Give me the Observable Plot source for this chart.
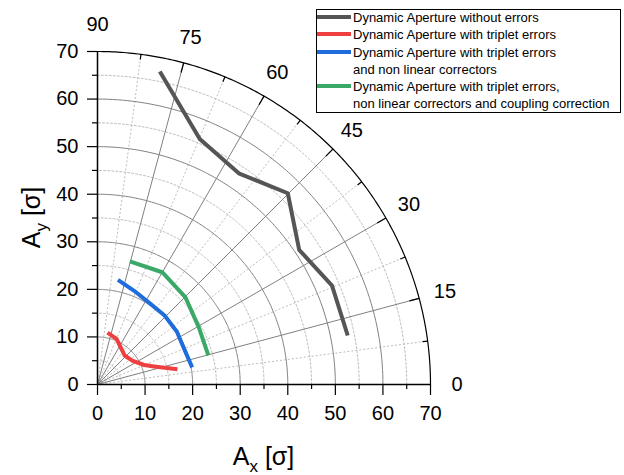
<!DOCTYPE html>
<html>
<head>
<meta charset="utf-8">
<script src="https://cdn.jsdelivr.net/npm/d3@7"></script>
<script src="https://cdn.jsdelivr.net/npm/@observablehq/plot@0.6"></script>
<style>
  html, body { margin: 0; padding: 0; background: white; }
  #chart { position: relative; width: 624px; height: 475px; }
</style>
</head>
<body>
<div id="chart"></div>
<script>
// ---------- data ----------
const seriesNames = [
  "Dynamic Aperture without errors",
  "Dynamic Aperture with triplet errors",
  "Dynamic Aperture with triplet errors|and non linear correctors",
  "Dynamic Aperture with triplet errors,|non linear correctors and coupling correction"
];
const seriesColors = ["#555555", "#ee4040", "#1f6ddc", "#3aa866"];

const noErrAx = [13.1, 21.5, 29.7, 40.0, 42.4, 49.3, 52.6];
const noErrAy = [65.8, 51.6, 44.4, 40.2, 28.3, 20.8, 10.3];

const tripAx = [2.1, 4.0, 5.7, 7.3, 9.8, 11.9, 16.8];
const tripAy = [10.9, 9.6, 6.1, 5.0, 4.1, 3.8, 3.2];

const tripNlAx = [4.3, 7.7, 11.2, 14.1, 16.7, 18.2, 19.9];
const tripNlAy = [22.0, 19.7, 16.9, 14.5, 11.1, 7.5, 3.6];

const tripNlCcAx = [6.8, 13.6, 18.5, 21.3, 23.3];
const tripNlCcAy = [25.9, 23.6, 18.3, 12.0, 6.1];

const xTicks = [0, 10, 20, 30, 40, 50, 60, 70];
const yTicks = [0, 10, 20, 30, 40, 50, 60, 70];
const minorTicks = [5, 15, 25, 35, 45, 55, 65];
const angleLabels = [0, 15, 30, 45, 60, 75, 90];
const majorRings = [10, 20, 30, 40, 50, 60];
const minorRings = [5, 15, 25, 35, 45, 55, 65];
const outerRadius = 70;
const majorSpokes = [15, 30, 45, 60, 75];
const minorSpokes = [7.5, 22.5, 37.5, 52.5, 67.5, 82.5];

// ---------- derived tables ----------
const allAx = [noErrAx, tripAx, tripNlAx, tripNlCcAx];
const allAy = [noErrAy, tripAy, tripNlAy, tripNlCcAy];
const rows = [];
seriesNames.forEach((s, i) => allAx[i].forEach((x, j) => rows.push({series: s, Ax: x, Ay: allAy[i][j]})));

const rad = d => d * Math.PI / 180;
const arcPts = rs => rs.flatMap(r => d3.range(0, 90.001, 0.5).map(a => ({r, x: r * Math.cos(rad(a)), y: r * Math.sin(rad(a))})));
const spokes = (as, r0, r1) => as.map(a => ({
  x1: r0 * Math.cos(rad(a)), y1: r0 * Math.sin(rad(a)),
  x2: r1 * Math.cos(rad(a)), y2: r1 * Math.sin(rad(a))
}));
const angleText = angleLabels.map(a => ({a, x: 75.6 * Math.cos(rad(a)), y: 75.6 * Math.sin(rad(a))}));

const W = 624, H = 475;
const mL = 97, mR = 194, mT = 51, mB = 91;
const font = "'Liberation Sans', Arial, Helvetica, sans-serif";

const plot = Plot.plot({
  width: W, height: H,
  marginLeft: mL, marginRight: mR, marginTop: mT, marginBottom: mB,
  style: {fontFamily: font, fontSize: "20px", background: "white", overflow: "visible"},
  x: {domain: [0, 70], label: null},
  y: {domain: [0, 70], label: null},
  color: {domain: seriesNames, range: seriesColors},
  marks: [
    // minor grid
    Plot.line(arcPts(minorRings), {x: "x", y: "y", z: "r", stroke: "#bdbdbd", strokeWidth: 1, strokeDasharray: "2,2"}),
    Plot.link(spokes(minorSpokes, 0, outerRadius), {x1: "x1", y1: "y1", x2: "x2", y2: "y2", stroke: "#bdbdbd", strokeWidth: 1, strokeDasharray: "2,2"}),
    // major grid
    Plot.line(arcPts(majorRings), {x: "x", y: "y", z: "r", stroke: "#808080", strokeWidth: 1}),
    Plot.link(spokes(majorSpokes, 0, outerRadius), {x1: "x1", y1: "y1", x2: "x2", y2: "y2", stroke: "#808080", strokeWidth: 1}),
    // outer arc + ticks
    Plot.line(arcPts([outerRadius]), {x: "x", y: "y", stroke: "black", strokeWidth: 1.2}),
    Plot.link(spokes(majorSpokes, outerRadius - 2.1, outerRadius), {x1: "x1", y1: "y1", x2: "x2", y2: "y2", stroke: "black", strokeWidth: 1.2}),
    Plot.link(spokes(minorSpokes, outerRadius - 1.1, outerRadius), {x1: "x1", y1: "y1", x2: "x2", y2: "y2", stroke: "black", strokeWidth: 1.2}),
    // cartesian axes
    Plot.ruleY([0], {x1: 0, x2: 70, stroke: "black", strokeWidth: 1.5}),
    Plot.ruleX([0], {y1: 0, y2: 70, stroke: "black", strokeWidth: 1.5}),
    Plot.axisX(xTicks, {tickSize: 11, tickPadding: 10, fontSize: 20, stroke: "black", strokeWidth: 1.2}),
    Plot.axisX(minorTicks, {tickSize: 5, text: null, stroke: "black", strokeWidth: 1.2}),
    Plot.axisY(yTicks, {tickSize: 10, tickPadding: 9, fontSize: 20, stroke: "black", strokeWidth: 1.2}),
    Plot.axisY(minorTicks, {tickSize: 5, text: null, stroke: "black", strokeWidth: 1.2}),
    // angle labels
    Plot.text(angleText, {x: "x", y: "y", text: d => String(d.a), fontSize: 20, fill: "black", textAnchor: "middle", lineAnchor: "middle"}),
    // data
    Plot.line(rows, {x: "Ax", y: "Ay", z: "series", stroke: "series", strokeWidth: 4, strokeLinecap: "butt", strokeLinejoin: "round"})
  ]
});

document.getElementById("chart").appendChild(plot);
const svg = d3.select(plot);

// axis titles
const cx = mL + (W - mL - mR) / 2;
const cy = mT + (H - mT - mB) / 2;
const xt = svg.append("text").attr("x", cx).attr("y", 465).attr("text-anchor", "middle")
  .attr("font-family", font).attr("font-size", 25).attr("fill", "black");
xt.append("tspan").text("A");
xt.append("tspan").attr("font-size", 17).attr("dy", 7).text("x");
xt.append("tspan").attr("dy", -7).text(" [σ]");

const yt = svg.append("text").attr("transform", `translate(40,${cy}) rotate(-90)`).attr("text-anchor", "middle")
  .attr("font-family", font).attr("font-size", 25).attr("fill", "black");
yt.append("tspan").text("A");
yt.append("tspan").attr("font-size", 17).attr("dy", 7).text("y");
yt.append("tspan").attr("dy", -7).text(" [σ]");

// legend
const lg = svg.append("g").attr("font-family", font).attr("font-size", 13).attr("fill", "black")
  .attr("text-anchor", "start");
lg.append("rect").attr("x", 316.5).attr("y", 9.5).attr("width", 304).attr("height", 103)
  .attr("fill", "white").attr("stroke", "black").attr("stroke-width", 1);
const rowY = [17, 34, 52, 86];
seriesNames.forEach((s, i) => {
  lg.append("line").attr("x1", 317).attr("x2", 351).attr("y1", rowY[i]).attr("y2", rowY[i])
    .attr("stroke", seriesColors[i]).attr("stroke-width", 4);
  s.split("|").forEach((part, k) => {
    lg.append("text").attr("x", 353).attr("y", rowY[i] + 4.5 + k * 17)
      .attr("text-anchor", "start").text(part);
  });
});
</script>
</body>
</html>
